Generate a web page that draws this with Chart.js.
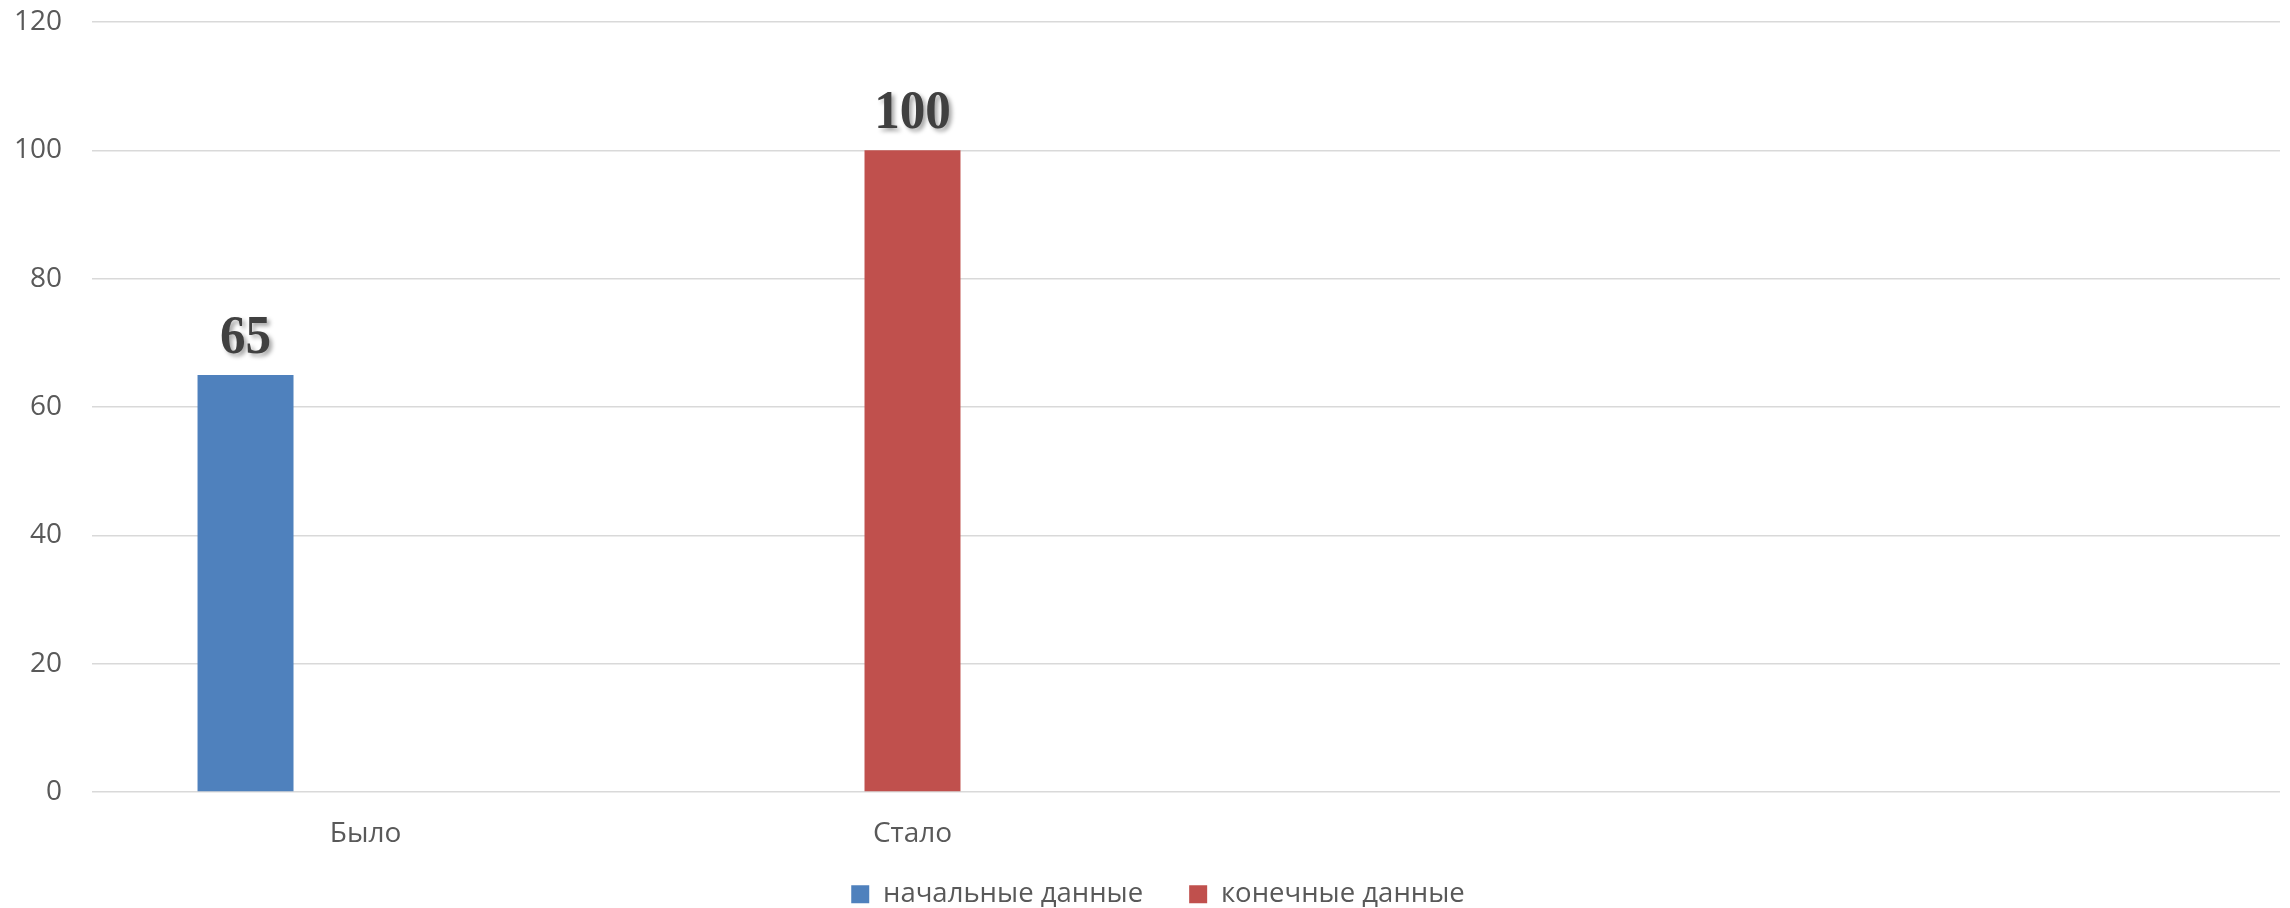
<!DOCTYPE html>
<html>
<head>
<meta charset="utf-8">
<script src="https://cdn.jsdelivr.net/npm/chart.js@4"></script>
<style>
  html, body { margin: 0; padding: 0; background: #ffffff; }
  #wrap { width: 2290px; height: 908px; }
</style>
</head>
<body>
<div id="wrap"><canvas id="c" width="2290" height="908"></canvas></div>
<script>
// ---- data ----
const categories = ['Было', 'Стало', '', ''];
const seriesNames = ['начальные данные', 'конечные данные'];
const initialValues = [65, null, null, null];
const finalValues = [null, 100, null, null];
const spacerValues = [null, null, null, null];
const yTicks = [0, 20, 40, 60, 80, 100, 120];

const valueLabels = {
  id: 'valueLabels',
  afterDatasetsDraw(chart) {
    const ctx = chart.ctx;
    chart.data.datasets.forEach((ds, i) => {
      const meta = chart.getDatasetMeta(i);
      meta.data.forEach((bar, j) => {
        const v = ds.data[j];
        if (v === null || v === undefined) return;
        ctx.save();
        ctx.font = 'bold 55px "Liberation Serif", "Times New Roman", serif';
        ctx.fillStyle = '#404040';
        ctx.shadowColor = 'rgba(0,0,0,0.35)';
        ctx.shadowOffsetX = 3;
        ctx.shadowOffsetY = 3;
        ctx.shadowBlur = 4;
        ctx.textAlign = 'center';
        ctx.textBaseline = 'alphabetic';
        ctx.translate(bar.x, bar.y - 22);
        ctx.scale(0.93, 1);
        ctx.fillText(String(v), 0, 0);
        ctx.restore();
      });
    });
  }
};

// nudge the legend box and widen the x label clip area after layout
const layoutTweaks = {
  id: 'layoutTweaks',
  afterLayout(chart) {
    const lg = chart.legend;
    if (lg) {
      lg.top += 10; lg.bottom += 10;
      lg.left += 18; lg.right += 18;
    }
    const xs = chart.scales.x;
    if (xs) { xs.bottom = xs.top + 70; }
  }
};

Chart.defaults.font.family = '"Open Sans", "Noto Sans", sans-serif';
Chart.defaults.font.size = 28;
Chart.defaults.color = '#595959';

new Chart(document.getElementById('c'), {
  type: 'bar',
  data: {
    labels: categories,
    datasets: [
      { label: seriesNames[0], data: initialValues, backgroundColor: '#4F81BD' },
      { label: seriesNames[1], data: finalValues, backgroundColor: '#C0504D' },
      { label: '', data: spacerValues, backgroundColor: '#9BBB59' }
    ]
  },
  options: {
    responsive: false,
    animation: false,
    devicePixelRatio: 1,
    layout: { padding: { top: 22, right: 10, left: 0, bottom: 0 } },
    datasets: { bar: { categoryPercentage: 0.658, barPercentage: 0.8 } },
    plugins: {
      tooltip: { enabled: false },
      legend: {
        position: 'bottom',
        labels: {
          boxWidth: 18,
          boxHeight: 18,
          padding: 46,
          color: '#595959',
          font: { size: 27.5 },
          filter: (item) => item.text !== ''
        }
      }
    },
    scales: {
      x: {
        grid: { display: false, drawTicks: false },
        border: { display: false },
        ticks: { padding: 25, color: '#595959', font: { size: 28 } },
        afterFit: (s) => { s.height = 32.5; }
      },
      y: {
        min: 0,
        max: 120,
        afterBuildTicks: (s) => { s.ticks = yTicks.map(v => ({ value: v })); },
        grid: { color: '#d9d9d9', lineWidth: 1.5, drawTicks: false },
        border: { display: false },
        ticks: { padding: 30, color: '#595959', font: { size: 28 } },
        afterFit: (s) => { s.width = 92; s.paddingTop = 17; s.paddingBottom = 17; }
      }
    }
  },
  plugins: [valueLabels, layoutTweaks]
});
</script>
</body>
</html>
